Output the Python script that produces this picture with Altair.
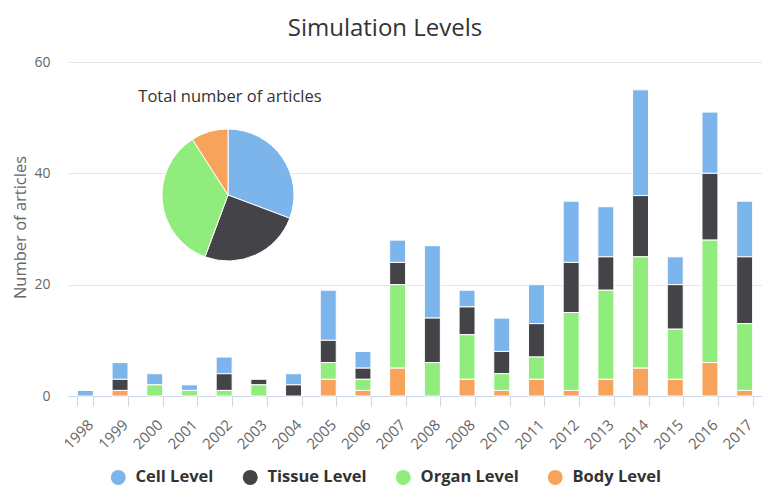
import altair as alt
import pandas as pd

# ---- data ----
years = ["1998", "1999", "2000", "2001", "2002", "2003", "2004", "2005", "2006", "2007",
         "2008", "2008", "2010", "2011", "2012", "2013", "2014", "2015", "2016", "2017"]
levels = ["Cell Level", "Tissue Level", "Organ Level", "Body Level"]
colors = ["#7cb5ec", "#434348", "#90ed7d", "#f7a35c"]
cell = [1, 3, 2, 1, 3, 0, 2, 9, 3, 4, 13, 3, 6, 7, 11, 9, 19, 5, 11, 10]
tissue = [0, 2, 0, 0, 3, 1, 2, 4, 2, 4, 8, 5, 4, 6, 9, 6, 11, 8, 12, 12]
organ = [0, 0, 2, 1, 1, 2, 0, 3, 2, 15, 6, 8, 3, 4, 14, 16, 20, 9, 22, 12]
body = [0, 1, 0, 0, 0, 0, 0, 3, 1, 5, 0, 3, 1, 3, 1, 3, 5, 3, 6, 1]
y_ticks = [0, 20, 40, 60]
chart_title = "Simulation Levels"
pie_title = "Total number of articles"
y_title = "Number of articles"

series = [cell, tissue, organ, body]
rows = []
for i in range(len(years)):
    for li, (lvl, arr) in enumerate(zip(levels, series)):
        rows.append({"idx": i, "level": lvl, "value": arr[i],
                     "bar_order": 3 - li, "pie_order": li})
df = pd.DataFrame(rows)

FONT = "Open Sans"
LEFT, TOP = 60, 54
W, H = 694, 334
X0, Y0 = 8 + LEFT, 8 + TOP  # absolute page position of the plot's top-left corner

label_expr = "[" + ",".join("'%s'" % y for y in years) + "][datum.value]"

color_enc = alt.Color(
    "level:N",
    scale=alt.Scale(domain=levels, range=colors),
    legend=alt.Legend(
        title=None, orient="none", legendX=42, legendY=407, direction="horizontal",
        symbolType="circle", symbolSize=225, symbolStrokeWidth=0,
        labelFontSize=16.5, labelFontWeight="bold", labelColor="#333333", labelFont=FONT,
        labelOffset=9, columnPadding=28,
    ),
)

bars = alt.Chart(df).transform_filter("datum.value > 0").mark_bar(
    stroke="white", strokeWidth=1
).encode(
    x=alt.X(
        "idx:O",
        scale=alt.Scale(paddingInner=0.54, paddingOuter=0.27),
        axis=alt.Axis(
            title=None, labelExpr=label_expr, labelAngle=315, labelAlign="right",
            labelBaseline="top", labelPadding=11, labelFontSize=15, labelColor="#666666",
            labelFont=FONT, labelOverlap=False, tickBand="extent", tickSize=10,
            tickColor="#ccd6eb", domainColor="#ccd6eb", grid=False,
        ),
    ),
    y=alt.Y(
        "value:Q",
        stack="zero",
        scale=alt.Scale(domain=[0, 60], nice=False),
        axis=alt.Axis(
            values=y_ticks, title=y_title, titleFontSize=16.5, titleColor="#666666",
            titleFont=FONT, titleFontWeight="normal", titleX=-48, titleY=227 - Y0,
            titleAngle=270, titleAlign="center", titleBaseline="middle",
            labelFontSize=14, labelColor="#666666", labelFont=FONT, labelPadding=18,
            domain=False, ticks=False, gridColor="#e6e6e6",
        ),
    ),
    color=color_enc,
    order=alt.Order("bar_order:Q"),
)

pie = alt.Chart(df).transform_aggregate(
    total="sum(value)", groupby=["level", "pie_order"]
).mark_arc(radius=66, stroke="white", strokeWidth=1).encode(
    theta=alt.Theta("total:Q", stack=True),
    color=color_enc,
    order=alt.Order("pie_order:Q"),
    x=alt.value(228 - X0),
    y=alt.value(195 - Y0),
)

ptitle = alt.Chart(pd.DataFrame({"t": [pie_title]})).mark_text(
    fontSize=16.5, font=FONT, color="#333333"
).encode(text="t:N", x=alt.value(230 - X0), y=alt.value(97 - Y0))

chart = alt.layer(bars, pie, ptitle).properties(
    width=W,
    height=H,
    title=alt.TitleParams(
        chart_title, fontSize=24, font=FONT, color="#333333", fontWeight="normal",
        anchor="middle", frame="group", dx=385 - (X0 + W / 2), offset=14,
    ),
    padding={"left": LEFT, "top": TOP, "right": 0, "bottom": 94},
    autosize=alt.AutoSizeParams(type="none"),
    background="white",
).configure_view(stroke=None)

chart.save("out.html", embed_options={"renderer": "svg", "actions": False})
